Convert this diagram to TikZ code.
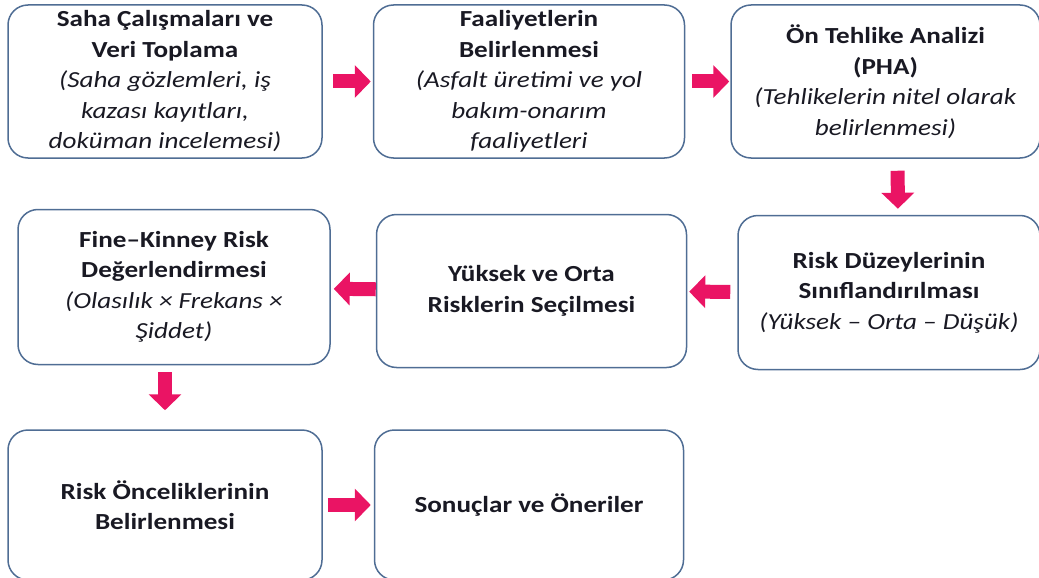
\documentclass[tikz,border=0pt]{standalone}
\usepackage{fontspec}
\setmainfont{Carlito}[FakeStretch=1.18]
\usetikzlibrary{positioning,arrows.meta}
\definecolor{boxline}{RGB}{79,109,148}
\definecolor{arrowpink}{RGB}{234,20,100}
\definecolor{txt}{RGB}{25,25,35}

\begin{document}
\begin{tikzpicture}[x=1pt, y=-1pt,
    box/.style={draw=boxline, line width=1.5pt, rectangle, rounded corners=20pt, align=center, inner sep=0pt,
        text=txt, font=\fontsize{23}{30.5}\selectfont, minimum width=310pt, minimum height=153pt},
    flow/.style={draw=arrowpink, line width=14pt, -{Triangle[width=32pt,length=16pt]}, shorten <=5pt, shorten >=3pt}]
    \useasboundingbox (0,0) rectangle (1039,578);

    % first row
    \node[box, minimum width=314pt] (collect) at (165,81.5) {\textbf{Saha Çalışmaları ve}\\\textbf{Veri Toplama}\\\textit{(Saha gözlemleri, iş}\\\textit{kazası kayıtları,}\\\textit{doküman incelemesi)}};
    \node[box, minimum width=311pt, right=50pt of collect] (activity) {\textbf{Faaliyetlerin}\\\textbf{Belirlenmesi}\\\textit{(Asfalt üretimi ve yol}\\\textit{bakım-onarım}\\\textit{faaliyetleri}};
    \node[box, minimum width=309pt, right=45pt of activity] (pha) {\textbf{Ön Tehlike Analizi}\\\textbf{(PHA)}\\\textit{(Tehlikelerin nitel olarak}\\\textit{belirlenmesi)}};

    % second row
    \node[box, minimum width=302pt, minimum height=154pt, below=56pt of pha, xshift=3.5pt] (classify) {\textbf{Risk Düzeylerinin}\\\textbf{Sınıflandırılması}\\\textit{(Yüksek – Orta – Düşük)}};
    \node[box, left=50pt of classify, yshift=1.5pt] (select) {\textbf{Yüksek ve Orta}\\\textbf{Risklerin Seçilmesi}};
    \node[box, minimum width=312pt, minimum height=155pt, left=45pt of select, yshift=4pt] (finekinney) {\textbf{Fine–Kinney Risk}\\\textbf{Değerlendirmesi}\\\textit{(Olasılık × Frekans ×}\\\textit{Şiddet)}};

    % third row
    \node[box, minimum width=314pt, minimum height=150pt, below=64pt of finekinney, xshift=-9pt] (priority) {\textbf{Risk Önceliklerinin}\\\textbf{Belirlenmesi}};
    \node[box, minimum width=309pt, minimum height=150pt, right=51pt of priority] (result) {\textbf{Sonuçlar ve Öneriler}};

    \draw[flow, shorten <=10pt, shorten >=2pt] (collect) -- (activity);
    \draw[flow, shorten <=7pt, shorten >=1pt] (activity) -- (pha);
    \draw[flow, shorten <=12pt, shorten >=6pt] ([xshift=12pt]pha.south) -- ([xshift=9pt]classify.north);
    \draw[flow, shorten <=7pt, shorten >=2pt] (classify) -- (select);
    \draw[flow, shorten <=0pt, shorten >=3pt] (select) -- (finekinney);
    \draw[flow, shorten <=7pt, shorten >=19pt] (priority.north |- finekinney.south) -- (priority.north);
    \draw[flow] (priority) -- (result);
\end{tikzpicture}
\end{document}
